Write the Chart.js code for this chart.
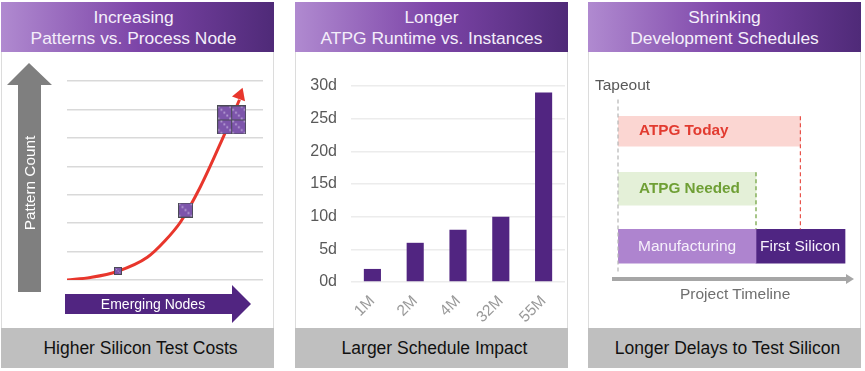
<!DOCTYPE html>
<html>
<head>
<meta charset="utf-8">
<title>Silicon test charts</title>
<script src="https://cdn.jsdelivr.net/npm/chart.js@4/dist/chart.umd.min.js"></script>
<style>
    html, body { margin: 0; padding: 0; background: #fff; }
    body { position: relative; width: 865px; height: 371px; overflow: hidden; font-family: "Liberation Sans", Arial, sans-serif; }
    .panel { position: absolute; top: 2px; width: 273px; height: 366px; }
    .frame { position: absolute; left: 0; right: 0; top: 50px; bottom: 40px; border-left: 1px solid #dcdcdc; border-right: 1px solid #dcdcdc; box-sizing: border-box; }
    .head { position: absolute; left: 0; top: 0; width: 100%; height: 50px; color: #f4eefa; font-size: 17.4px; line-height: 21px; text-align: center; padding-top: 5px; box-sizing: border-box;
        background: linear-gradient(90deg, #b08ad0 0%, #7d45a8 50%, #4f2a78 100%); }
    .foot { position: absolute; left: 0; bottom: 0; width: 100%; height: 40px; line-height: 40px; padding-left: 6px; box-sizing: border-box; background: #bfbfbf; color: #111; font-size: 17.5px; text-align: center; }
    canvas { position: absolute; top: 50px; left: 0; }
    svg { position: absolute; left: 0; top: 0; pointer-events: none; }
    .label { position: absolute; white-space: nowrap; }
</style>
</head>
<body>
<div class="panel" style="left:1px">
    <div class="frame"></div>
    <div class="head" style="padding-right:8px">Increasing<br>Patterns vs. Process Node</div>
    <canvas id="patternChart" width="273" height="276"></canvas>
    <div class="foot">Higher Silicon Test Costs</div>
</div>
<div class="panel" style="left:295px">
    <div class="frame"></div>
    <div class="head">Longer<br>ATPG Runtime vs. Instances</div>
    <canvas id="runtimeChart" width="273" height="276"></canvas>
    <div class="foot">Larger Schedule Impact</div>
</div>
<div class="panel" style="left:588px">
    <div class="frame"></div>
    <div class="head">Shrinking<br>Development Schedules</div>
    <canvas id="scheduleChart" width="273" height="276"></canvas>
    <div class="foot">Longer Delays to Test Silicon</div>
</div>

<svg width="865" height="371">
    <polygon points="29,63 52,85 41,85 41,292 18,292 18,85 7,85" fill="#7f7f7f"/>
    <polygon points="65,294 232,294 232,285 251,304 232,323 232,314 65,314" fill="#512581"/>
    <polygon points="612,277 846,277 846,274 854,279 846,284 846,281 612,281" fill="#a6a6a6"/>
</svg>
<div class="label" style="left:30px;top:183px;color:#fff;font-size:15.3px;transform:translate(-50%,-50%) rotate(-90deg)">Pattern Count</div>
<div class="label" style="left:153px;top:304px;color:#fff;font-size:14px;transform:translate(-50%,-50%)">Emerging Nodes</div>
<div class="label" style="left:595px;top:76px;color:#595959;font-size:15.5px">Tapeout</div>
<div class="label" style="left:680px;top:285px;color:#6f6f6f;font-size:15.5px">Project Timeline</div>

<script>
// left panel
const nodePosition = [0, 12, 25.6, 41, 50, 58, 68, 80, 88];
const patternCount = [0, 0.09, 0.3, 0.8, 1.38, 2.05, 3.27, 5.07, 6.34];
const chipNode = [26, 60.5, 84];
const chipPattern = [0.32, 2.46, 5.63];
const arrowTipNode = [88.2];
const arrowTipPattern = [6.5];

// middle panel
const instanceLabels = ['1M', '2M', '4M', '32M', '55M'];
const runtimeDays = [2, 6, 8, 10, 29];

// right panel
const lanes = ['ATPG Today', 'ATPG Needed', 'Build'];
const atpgToday = [0, 7.93];
const atpgNeeded = [0, 6];
const manufacturing = [0, 6];
const firstSilicon = [6, 9.87];

const PURPLE = '#512581';

function makeChip(size, tiles) {
    const c = document.createElement('canvas');
    c.width = size;
    c.height = size;
    const g = c.getContext('2d');
    g.fillStyle = '#7d55ab';
    g.fillRect(0, 0, size, size);
    const cell = size / tiles;
    g.fillStyle = '#b9a3d6';
    for (let i = 0; i < tiles * 5; i++) {
        for (let j = 0; j < tiles * 5; j++) {
            if ((i * 3 + j * 5) % 4 === 0) {
                g.fillRect(i * cell / 5 + 0.5, j * cell / 5 + 0.5, cell / 8, cell / 8);
            }
        }
    }
    g.strokeStyle = '#4a4a55';
    g.lineWidth = 1;
    g.strokeRect(0.5, 0.5, size - 1, size - 1);
    for (let t = 1; t < tiles; t++) {
        g.beginPath();
        g.moveTo(t * cell, 0);
        g.lineTo(t * cell, size);
        g.moveTo(0, t * cell);
        g.lineTo(size, t * cell);
        g.stroke();
    }
    return c;
}

function toPoints(xs, ys) {
    return xs.map((x, i) => ({ x: x, y: ys[i] }));
}

function renderPatternChart() {
    new Chart(document.getElementById('patternChart'), {
        type: 'line',
        data: {
            datasets: [
                {
                    label: 'Chips',
                    data: toPoints(chipNode, chipPattern),
                    showLine: false,
                    pointStyle: [makeChip(8, 1), makeChip(15, 1), makeChip(29, 2)]
                },
                {
                    label: 'Arrow',
                    data: toPoints(arrowTipNode, arrowTipPattern),
                    showLine: false,
                    pointStyle: 'triangle',
                    pointRadius: 8,
                    pointRotation: 20,
                    pointBackgroundColor: '#e8362c',
                    pointBorderWidth: 0
                },
                {
                    label: 'Pattern count',
                    data: toPoints(nodePosition, patternCount),
                    borderColor: '#e8362c',
                    borderWidth: 3,
                    pointRadius: 0,
                    cubicInterpolationMode: 'monotone'
                }
            ]
        },
        options: {
            responsive: false,
            animation: false,
            layout: { padding: { left: 66, right: 11, top: 29, bottom: 48 } },
            plugins: { legend: { display: false }, tooltip: { enabled: false } },
            scales: {
                x: { type: 'linear', min: 0, max: 100, display: false },
                y: {
                    min: 0,
                    max: 7,
                    border: { display: false },
                    grid: { color: '#d9d9d9', lineWidth: 1.5, drawTicks: false },
                    ticks: { display: false, stepSize: 1 },
                    afterFit: scale => { scale.width = 0; }
                }
            }
        }
    });
}

function renderRuntimeChart() {
    new Chart(document.getElementById('runtimeChart'), {
        type: 'bar',
        data: {
            labels: instanceLabels,
            datasets: [{
                label: 'ATPG runtime',
                data: runtimeDays,
                backgroundColor: PURPLE,
                categoryPercentage: 0.8,
                barPercentage: 0.5
            }]
        },
        options: {
            responsive: false,
            animation: false,
            layout: { padding: { top: 34, right: 3 } },
            plugins: { legend: { display: false }, tooltip: { enabled: false } },
            scales: {
                x: {
                    border: { display: false },
                    grid: { display: false },
                    ticks: {
                        color: '#9a9a9a',
                        font: { family: 'Liberation Sans', size: 15.5 },
                        autoSkip: false,
                        minRotation: 45,
                        maxRotation: 45,
                        padding: 2
                    },
                    afterFit: scale => { scale.height = 46; }
                },
                y: {
                    min: 0,
                    max: 30,
                    border: { display: false },
                    grid: { color: '#ececec', lineWidth: 1.5, drawTicks: false },
                    ticks: {
                        stepSize: 5,
                        color: '#595959',
                        padding: 14,
                        font: { family: 'Liberation Sans', size: 16 },
                        callback: value => value + 'd'
                    },
                    afterFit: scale => { scale.width = 56; }
                }
            }
        }
    });
}

// bar captions and the dashed markers on the timeline
const schedulePlugin = {
    id: 'schedule',
    afterDatasetsDraw(chart) {
        const { ctx, chartArea, scales } = chart;
        const bars = chart.data.datasets.map((d, i) => chart.getDatasetMeta(i).data[d.lane]);
        const barTop = b => b.y - b.height / 2;
        const buildTop = barTop(bars[2]);

        function dashed(x, y0, y1, color) {
            ctx.save();
            ctx.strokeStyle = color;
            ctx.lineWidth = 1.2;
            ctx.setLineDash([4, 3]);
            ctx.beginPath();
            ctx.moveTo(x, y0);
            ctx.lineTo(x, y1);
            ctx.stroke();
            ctx.restore();
        }

        dashed(scales.x.getPixelForValue(0), chartArea.top - 3, chartArea.bottom - 2, '#b5b5b5');
        dashed(scales.x.getPixelForValue(atpgToday[1]), barTop(bars[0]), buildTop, '#e8524a');
        dashed(scales.x.getPixelForValue(atpgNeeded[1]), barTop(bars[1]), buildTop, '#6d9f3a');

        chart.data.datasets.forEach((d, i) => {
            ctx.save();
            ctx.fillStyle = d.captionColor;
            ctx.font = d.captionFont;
            ctx.textBaseline = 'middle';
            ctx.fillText(d.label, bars[i].base + d.captionOffset, bars[i].y);
            ctx.restore();
        });
    }
};

function laneData(lane, range) {
    return lanes.map((_, i) => (i === lane ? range : null));
}

function renderScheduleChart() {
    const bold = 'bold 15.3px "Liberation Sans"';
    const plain = '15.5px "Liberation Sans"';
    new Chart(document.getElementById('scheduleChart'), {
        type: 'bar',
        data: {
            labels: lanes,
            datasets: [
                { label: 'ATPG Today', lane: 0, data: laneData(0, atpgToday), backgroundColor: '#fbd6d2', barThickness: 30, captionColor: '#e23b30', captionFont: bold, captionOffset: 21 },
                { label: 'ATPG Needed', lane: 1, data: laneData(1, atpgNeeded), backgroundColor: '#e4f0d8', barThickness: 33, captionColor: '#6f9f35', captionFont: bold, captionOffset: 21 },
                { label: 'Manufacturing', lane: 2, data: laneData(2, manufacturing), backgroundColor: '#ae84cf', barThickness: 34, captionColor: '#f6f0fb', captionFont: plain, captionOffset: 20 },
                { label: 'First Silicon', lane: 2, data: laneData(2, firstSilicon), backgroundColor: '#4f2582', barThickness: 34, captionColor: '#f6f0fb', captionFont: plain, captionOffset: 4 }
            ]
        },
        options: {
            indexAxis: 'y',
            responsive: false,
            animation: false,
            grouped: false,
            layout: { padding: { left: 30, right: 13, top: 50.5, bottom: 53 } },
            plugins: { legend: { display: false }, tooltip: { enabled: false } },
            scales: {
                x: { min: 0, max: 10, display: false },
                y: { display: false }
            }
        },
        plugins: [schedulePlugin]
    });
}

document.addEventListener('DOMContentLoaded', () => {
    renderPatternChart();
    renderRuntimeChart();
    renderScheduleChart();
});
</script>
</body>
</html>
